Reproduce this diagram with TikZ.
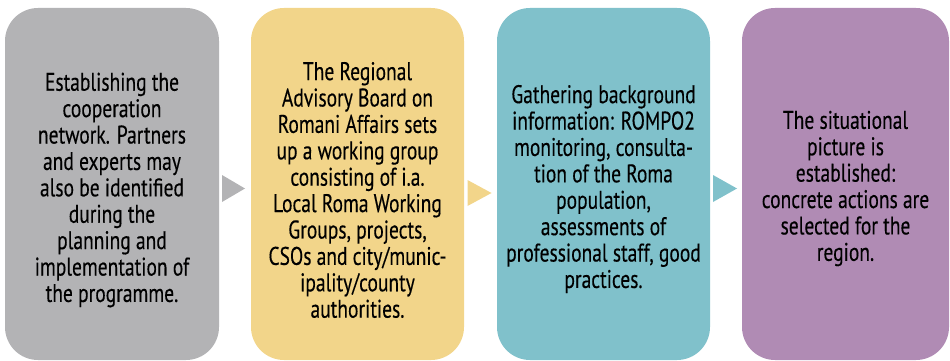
\documentclass[tikz,border=0pt]{standalone}
\usepackage{fontspec}
\setmainfont{PT Sans}[FakeStretch=0.765,FakeBold=0.3]
\definecolor{cgray}{RGB}{179,179,181}
\definecolor{cyellow}{RGB}{242,213,138}
\definecolor{cteal}{RGB}{128,193,203}
\definecolor{cpurple}{RGB}{176,139,180}
\tikzset{
  stepbox/.style={rectangle, rounded corners=33pt, minimum height=352pt,
    inner sep=0pt},
  steptext/.style={inner sep=0pt, align=center, text=black,
    font=\fontsize{25.5}{26.4}\selectfont}
}
\begin{document}
\begin{tikzpicture}[x=1pt,y=-1pt]
\useasboundingbox (0,0) rectangle (950,361);
\node[stepbox, fill=cgray, minimum width=214pt] (b1) at (112,184) {};
\node[stepbox, fill=cyellow, minimum width=213pt] (b2) at (357.5,184) {};
\node[stepbox, fill=cteal, minimum width=213pt] (b3) at (603.5,184) {};
\node[stepbox, fill=cpurple, minimum width=207pt] (b4) at (845.5,184) {};
\node[steptext] (t1) at ([yshift=-6pt]b1.center)
 {Establishing the\\cooperation\\network. Partners\\and experts may\\also be identified\\during the\\planning and\\implementation of\\the programme.};
\node[steptext] (t2) at ([yshift=-6pt]b2.center)
 {The Regional\\Advisory Board on\\Romani Affairs sets\\up a working group\\consisting of i.a.\\Local Roma Working\\Groups, projects,\\CSOs and city/munic-\\ipality/county\\authorities.};
\node[steptext] (t3) at ([yshift=-5pt]b3.center)
 {Gathering background\\information: ROMPO2\\monitoring, consulta-\\tion of the Roma\\population,\\assessments of\\professional staff, good\\practices.};
\node[steptext] (t4) at ([yshift=-4.5pt]b4.center)
 {The situational\\picture is\\established:\\concrete actions are\\selected for the\\region.};
\fill[cgray] (222,175) -- (245,188.5) -- (222,202) -- cycle;
\fill[cyellow] (467.5,180) -- (491.5,193) -- (467.5,206) -- cycle;
\fill[cteal] (713,175) -- (737,188.5) -- (713,202) -- cycle;
\end{tikzpicture}
\end{document}
